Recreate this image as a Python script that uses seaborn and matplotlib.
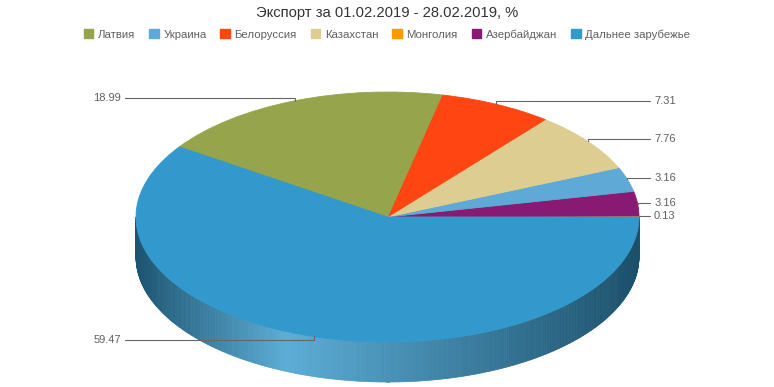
import numpy as np
import matplotlib
matplotlib.use("Agg")
import matplotlib.pyplot as plt
from matplotlib.patches import Patch
from matplotlib.collections import PolyCollection
from matplotlib.colors import to_rgb
import seaborn as sns

# данные
title = "Экспорт за 01.02.2019 - 28.02.2019, %"
categories = ["Латвия", "Украина", "Белоруссия", "Казахстан", "Монголия", "Азербайджан", "Дальнее зарубежье"]
values = [18.99, 3.16, 7.31, 7.76, 0.13, 3.16, 59.47]
colors = ["#96a44b", "#5ea9d5", "#ff4612", "#ddcd91", "#ff9900", "#891a73", "#3398cc"]
# порядок секторов на круге (против часовой стрелки от 3 часов)
pie_order = ["Монголия", "Азербайджан", "Украина", "Казахстан", "Белоруссия", "Латвия", "Дальнее зарубежье"]

sns.set_theme(style="white")
plt.rcParams["font.family"] = ["Liberation Sans", "DejaVu Sans"]

W, H = 774, 387
cx, cy = 387.5, 217      # центр эллипса, px
rx, ry = 251.5, 125      # полуоси, px
depth = 40 / ry          # толщина "3d" борта

fig = plt.figure(figsize=(W / 100, H / 100), dpi=100)
ax = fig.add_axes([0, 0, 1, 1])

idx = [categories.index(c) for c in pie_order]
vals = [values[i] for i in idx]
cols = [colors[i] for i in idx]

wedges, _ = ax.pie(vals, colors=cols, startangle=0, counterclock=True, radius=1,
                   wedgeprops=dict(linewidth=0.6), normalize=True)
for w, c in zip(wedges, cols):
    w.set_edgecolor(c)
    w.set_zorder(3)

ax.set_aspect("auto")
ax.set_xlim(-cx / rx, (W - cx) / rx)
ax.set_ylim((cy - H) / ry, cy / ry)
ax.axis("off")


def side_color(base, x):
    b = np.array(to_rgb(base))
    dark = b * 0.55
    light = b + (1 - b) * 0.2
    if x < -0.4:
        t = (x + 1) / 0.6
        return dark + (light - dark) * t
    t = (x + 0.4) / 1.4
    return light + (dark * 0.95 - light) * t


# борт (нижняя половина)
polys, fcs = [], []
for w, c in zip(wedges, cols):
    a, b = max(w.theta1, 180), min(w.theta2, 360)
    if b <= a:
        continue
    th = np.radians(np.linspace(a, b, int((b - a) * 2) + 2))
    for t0, t1 in zip(th[:-1], th[1:]):
        x0, x1 = np.cos(t0), np.cos(t1)
        y0, y1 = np.sin(t0), np.sin(t1)
        polys.append([(x0, y0), (x1, y1), (x1, y1 - depth), (x0, y0 - depth)])
        fcs.append(side_color(c, (x0 + x1) / 2))
pc = PolyCollection(polys, facecolors=fcs, edgecolors=fcs, linewidths=0.5, zorder=1)
ax.add_collection(pc)

# подписи значений
for w, v in zip(wedges, vals):
    mid = np.radians((w.theta1 + w.theta2) / 2)
    ex, ey = np.cos(mid), np.sin(mid)
    ly = ey + 0.028 * np.sin(mid)
    if ex >= 0:
        lx, tx, ha = 1.044, 1.06, "left"
    else:
        lx, tx, ha = -1.045, -1.06, "right"
    ax.plot([ex, ex, lx], [ey, ly, ly], color="#666666", lw=0.8, zorder=4,
            solid_joinstyle="miter")
    ax.text(tx, ly, f"{v:.2f}", ha=ha, va="center", fontsize=8, color="#606060", zorder=5)

fig.text(0.5, 1 - 12.5 / H, title, ha="center", va="center", fontsize=10.6, color="#333333")
handles = [Patch(facecolor=c, edgecolor=c) for c in colors]
fig.legend(handles, categories, loc="center", bbox_to_anchor=(0.5, 1 - 34.5 / H), ncol=7,
           frameon=False, fontsize=8.2, handlelength=0.85, handleheight=0.85,
           handletextpad=0.4, columnspacing=1.22, labelcolor="#606060")

plt.savefig("out.png", dpi=100)
